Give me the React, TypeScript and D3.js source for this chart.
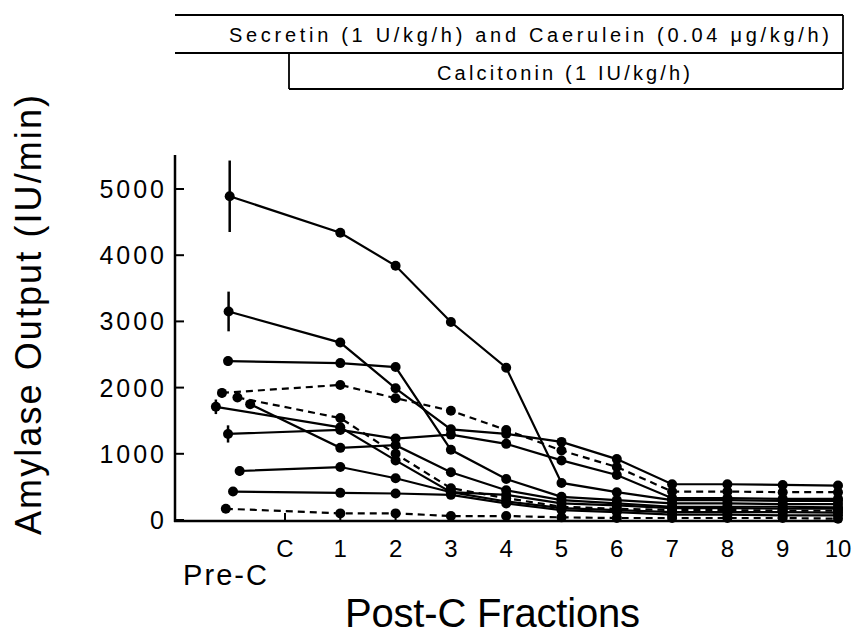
import React from "react";
import * as d3 from "d3";

// fractions after calcitonin start (C = 0)
const fractions = [1, 2, 3, 4, 5, 6, 7, 8, 9, 10];
const xTickValues = [0, 1, 2, 3, 4, 5, 6, 7, 8, 9, 10];
const xTickLabels = ["C", "1", "2", "3", "4", "5", "6", "7", "8", "9", "10"];
const yTicks = [0, 1000, 2000, 3000, 4000, 5000];

// pre-C value, its position on the fraction axis, and its error bar
const preCValues = [4890, 3150, 2400, 1920, 1850, 1750, 1710, 1300, 740, 430, 170];
const preCPositions = [-1.0, -1.02, -1.03, -1.14, -0.86, -0.63, -1.25, -1.03, -0.82, -0.94, -1.07];
const preCErrors = [540, 300, 70, 70, 40, 0, 110, 130, 70, 0, 0];
const dashedSeries = [false, false, false, true, true, false, false, false, false, false, true];

// values for fractions 1..10
const dog1 = [4340, 3840, 2990, 2300, 560, 420, 300, 300, 290, 290];
const dog2 = [2680, 1990, 1370, 1300, 1180, 920, 540, 540, 530, 520];
const dog3 = [2370, 2310, 1060, 620, 350, 300, 250, 250, 240, 240];
const dog4 = [2040, 1840, 1650, 1360, 1050, 800, 430, 430, 420, 420];
const dog5 = [1540, 1000, 480, 330, 200, 170, 150, 150, 140, 140];
const dog6 = [1090, 1130, 720, 450, 300, 250, 200, 200, 200, 190];
const dog7 = [1400, 900, 420, 380, 250, 220, 180, 180, 170, 170];
const dog8 = [1360, 1230, 1290, 1150, 900, 680, 330, 330, 320, 320];
const dog9 = [800, 630, 420, 280, 180, 150, 120, 120, 120, 110];
const dog10 = [410, 400, 380, 250, 150, 120, 80, 80, 70, 70];
const dog11 = [100, 100, 60, 60, 40, 30, 30, 30, 30, 20];
const postValues = [dog1, dog2, dog3, dog4, dog5, dog6, dog7, dog8, dog9, dog10, dog11];

const W = 862;
const H = 639;
const FONT = "'Liberation Sans', Arial, sans-serif";

export default function App() {
  const x = d3.scaleLinear().domain([0, 10]).range([285, 838]);
  const y = d3.scaleLinear().domain([0, 5000]).range([520, 189]);
  const axisX = 175;
  const axisY = y(0) + 1;

  const line = d3
    .line<[number, number]>()
    .x((d) => x(d[0]))
    .y((d) => y(d[1]));

  const series = postValues.map((vals, i) => {
    const pts: [number, number][] = [[preCPositions[i], preCValues[i]]];
    fractions.forEach((f, j) => pts.push([f, vals[j]]));
    return pts;
  });

  const right = x(10) + 5;
  const boxLeft = x(0) + 4;

  return (
    <svg
      width={W}
      height={H}
      style={{ position: "absolute", left: 0, top: 0, background: "#fff" }}
      fontFamily={FONT}
    >
      {/* infusion bars */}
      <g stroke="#000" strokeWidth={1.8} fill="none">
        <line x1={axisX} y1={15} x2={right} y2={15} />
        <line x1={axisX} y1={53} x2={right} y2={53} />
        <line x1={right} y1={15} x2={right} y2={89} />
        <line x1={boxLeft} y1={53} x2={boxLeft} y2={89} />
        <line x1={boxLeft} y1={89} x2={right} y2={89} />
      </g>
      <text x={229} y={42} fontSize={20} textLength={600} lengthAdjust="spacing">
        Secretin (1 U/kg/h) and Caerulein (0.04 μg/kg/h)
      </text>
      <text x={437} y={80} fontSize={20} textLength={253} lengthAdjust="spacing">
        Calcitonin (1 IU/kg/h)
      </text>

      {/* axes */}
      <g stroke="#000" strokeWidth={2.5}>
        <line x1={axisX} y1={155} x2={axisX} y2={axisY + 1} />
        <line x1={axisX - 1} y1={axisY} x2={x(10) + 4} y2={axisY} />
        {yTicks.map((t) => (
          <line key={t} x1={axisX} y1={y(t)} x2={axisX + 9} y2={y(t)} strokeWidth={2} />
        ))}
        {xTickValues.map((t) => (
          <line key={t} x1={x(t)} y1={axisY} x2={x(t)} y2={axisY - 8} strokeWidth={2} />
        ))}
      </g>
      {yTicks.map((t) => (
        <text
          key={t}
          x={167}
          y={y(t) + 9}
          fontSize={25}
          textAnchor="end"
          letterSpacing={3}
        >
          {t}
        </text>
      ))}
      {xTickValues.map((t, i) => (
        <text key={t} x={x(t)} y={557} fontSize={24} textAnchor="middle">
          {xTickLabels[i]}
        </text>
      ))}
      <text x={183} y={585} fontSize={29} textLength={84} lengthAdjust="spacing">
        Pre-C
      </text>
      <text x={345} y={627} fontSize={40} textLength={295} lengthAdjust="spacing">
        Post-C Fractions
      </text>
      <text
        transform={`translate(41, 535) rotate(-90)`}
        fontSize={36}
        textLength={440}
        lengthAdjust="spacing"
      >
        Amylase Output (IU/min)
      </text>

      {/* series */}
      <g fill="none" stroke="#000" strokeWidth={2.2}>
        {series.map((pts, i) => (
          <path
            key={i}
            d={line(pts) ?? ""}
            strokeDasharray={dashedSeries[i] ? "7 5" : undefined}
          />
        ))}
        {preCErrors.map((e, i) =>
          e > 0 ? (
            <line
              key={i}
              x1={x(preCPositions[i])}
              x2={x(preCPositions[i])}
              y1={y(preCValues[i] + e)}
              y2={y(preCValues[i] - e)}
              strokeWidth={2.5}
            />
          ) : null
        )}
      </g>
      <g fill="#000">
        {series.map((pts, i) =>
          pts.map((p, j) => (
            <circle key={`${i}-${j}`} cx={x(p[0])} cy={y(p[1])} r={5} />
          ))
        )}
      </g>
    </svg>
  );
}
